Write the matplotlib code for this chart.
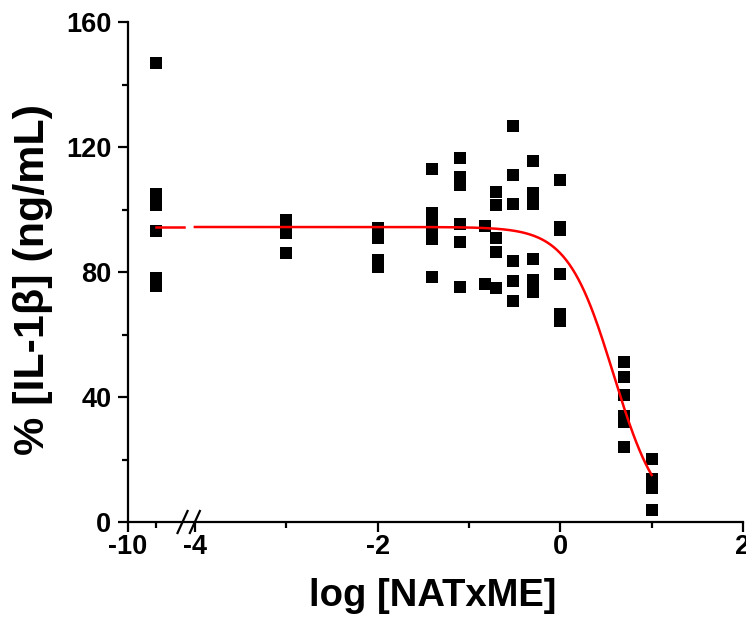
import numpy as np
import matplotlib
matplotlib.use("Agg")
import matplotlib.pyplot as plt
from matplotlib.ticker import FixedLocator, FixedFormatter

plt.rcParams["font.family"] = ["Liberation Sans", "DejaVu Sans"]
plt.rcParams["font.weight"] = "bold"

# log concentration of NATxME for each dose group
dose_log = [-9, -3, -2, -1.4, -1.1, -0.82, -0.7, -0.52, -0.3, 0, 0.7, 1]

# % IL-1beta replicates per dose group
resp_m9 = [147, 105, 101.5, 93, 78, 75.5]
resp_m3 = [96.5, 92.5, 86]
resp_m2 = [94, 91, 84, 81.5]
resp_m14 = [113, 99, 96, 93, 90.5, 78.5]
resp_m11 = [116.5, 110.5, 108, 95.5, 89.5, 75.2]
resp_m082 = [94.7, 76.3]
resp_m07 = [105.5, 101.5, 91, 86.5, 75]
resp_m052 = [126.7, 111, 101.8, 83.5, 77, 70.7]
resp_m03 = [115.5, 105.4, 101.8, 84.2, 77.6, 73.6]
resp_0 = [109.3, 94.5, 93.3, 79.4, 66.5, 64.3]
resp_07 = [51.2, 46.4, 40.5, 33.9, 32, 24]
resp_1 = [20.3, 13.7, 10.9, 3.7]
responses = [resp_m9, resp_m3, resp_m2, resp_m14, resp_m11, resp_m082,
             resp_m07, resp_m052, resp_m03, resp_0, resp_07, resp_1]

# sigmoidal dose-response fit
fit_top = 94.4
fit_bottom = 0.0
fit_logic50 = 0.583
fit_hill = 1.733

x_major = [-10, -4, -2, 0, 2]
x_major_labels = ["-10", "-4", "-2", "0", "2"]
x_minor = [-9, -3, -1, 1]
y_major = [0, 40, 80, 120, 160]
y_minor = [20, 60, 100, 140]

# piecewise-linear broken axis: a short segment around -10..-8, then -4..2
_xb = np.array([-10.0, -8.0, -4.0, 2.0])
_ub = np.array([-4.732, -4.12, -4.0, 2.0])


def _interp_ext(v, xp, fp):
    v = np.asarray(v, dtype=float)
    out = np.interp(v, xp, fp)
    lo_s = (fp[1] - fp[0]) / (xp[1] - xp[0])
    hi_s = (fp[-1] - fp[-2]) / (xp[-1] - xp[-2])
    out = np.where(v < xp[0], fp[0] + (v - xp[0]) * lo_s, out)
    out = np.where(v > xp[-1], fp[-1] + (v - xp[-1]) * hi_s, out)
    return out


def fwd(x):
    return _interp_ext(x, _xb, _ub)


def inv(u):
    return _interp_ext(u, _ub, _xb)


def model(x):
    return fit_bottom + (fit_top - fit_bottom) / (1 + 10 ** ((x - fit_logic50) * fit_hill))


fig = plt.figure(figsize=(7.46, 6.28), dpi=100)
ax = fig.add_axes([128 / 746, 106 / 628, 615 / 746, 500 / 628])
ax.set_xscale("function", functions=(fwd, inv))
ax.set_xlim(-10, 2)
ax.set_ylim(0, 160)

for xv, ys in zip(dose_log, responses):
    ax.plot([xv] * len(ys), ys, linestyle="none", marker="s", markersize=8.2,
            color="black", markeredgewidth=0, zorder=3, clip_on=False)

# fitted curve: left segment and main segment
xl = np.linspace(-9, -8, 20)
ax.plot(xl, model(xl), color="#ff0000", lw=1.8, zorder=4)
xr = np.linspace(-4, 1, 300)
ax.plot(xr, model(xr), color="#ff0000", lw=1.8, zorder=4)

for s in ["top", "right"]:
    ax.spines[s].set_visible(False)
for s in ["left", "bottom"]:
    ax.spines[s].set_linewidth(1.6)

ax.xaxis.set_major_locator(FixedLocator(x_major))
ax.xaxis.set_major_formatter(FixedFormatter(x_major_labels))
ax.xaxis.set_minor_locator(FixedLocator(x_minor))
ax.yaxis.set_major_locator(FixedLocator(y_major))
ax.yaxis.set_minor_locator(FixedLocator(y_minor))
ax.tick_params(which="major", direction="out", length=7, width=1.6,
               labelsize=19.5)
ax.tick_params(axis="y", which="major", pad=5)
ax.tick_params(axis="x", which="major", pad=2)
ax.tick_params(which="minor", direction="out", length=4, width=1.6)
for lab in ax.get_xticklabels() + ax.get_yticklabels():
    lab.set_fontweight("bold")

# break marks on the x axis
tr = ax.get_xaxis_transform()
for uc in (-4.135, -4.0):
    x0, x1 = inv([uc - 0.055, uc + 0.055])
    ax.plot([x0, x1], [-0.022, 0.022], color="black", lw=1.6,
            transform=tr, clip_on=False, zorder=5)

ax.set_xlabel("log [NATxME]", fontsize=27.5, fontweight="bold")
ax.xaxis.set_label_coords(0.495, -0.112)
ax.set_ylabel("% [IL-1β] (ng/mL)", fontsize=31, fontweight="bold")
ax.yaxis.set_label_coords(-0.122, 0.485)

fig.savefig("out.png", dpi=100)
